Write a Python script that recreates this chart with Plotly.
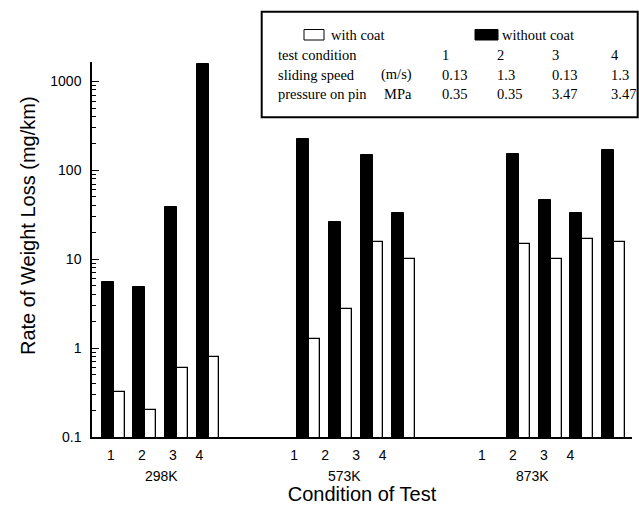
import plotly.graph_objects as go

# ---------------- data ----------------
groups = ["298K", "573K", "873K"]
conditions = ["1", "2", "3", "4"]
with_coat = [
    [0.32, 0.20, 0.60, 0.80],
    [1.28, 2.75, 15.5, 9.95],
    [14.7, 10.05, 16.9, 15.5],
]
without_coat = [
    [5.5, 4.9, 39, 1580],
    [222, 26.4, 148, 33],
    [153, 46.8, 33, 167],
]
legend_header = ["test condition", "sliding speed", "pressure on pin"]
legend_units = ["", "(m/s)", "MPa"]
sliding_speed = ["0.13", "1.3", "0.13", "1.3"]
pin_pressure = ["0.35", "0.35", "3.47", "3.47"]
y_tick_vals = [0.1, 1, 10, 100, 1000]
y_tick_text = ["0.1", "1", "10", "100", "1000"]

# ---------------- layout helpers (positions) ----------------
group_bar_start = [0.0, 6.19, 12.83]
pair_step = 1.0
group_label_start = [0.29, 6.09, 12.03]
label_offsets = [0.0, 0.98, 1.96, 2.8]
group_name_offset = 1.6

W, H = 639, 505
ML, MR, MT, MB = 92, 7, 62, 68
PW, PH = W - ML - MR, H - MT - MB


def px(x):
    return (x - ML) / PW


def py(y):
    return (H - MB - y) / PH


SANS = "Liberation Sans, Arial, sans-serif"
SERIF = "Liberation Serif, Times New Roman, serif"

fig = go.Figure()

bx, by_w, by_wo = [], [], []
for g in range(len(groups)):
    for i in range(len(conditions)):
        bx.append(group_bar_start[g] + i * pair_step)
        by_w.append(with_coat[g][i])
        by_wo.append(without_coat[g][i])

fig.add_trace(go.Bar(
    x=bx, y=by_wo, width=0.38, offset=0.0, name="without coat",
    marker=dict(color="black", line=dict(color="black", width=1)),
    showlegend=False,
))
fig.add_trace(go.Bar(
    x=bx, y=by_w, width=0.345, offset=0.38, name="with coat",
    marker=dict(color="white", line=dict(color="black", width=1.3)),
    showlegend=False,
))

tickvals, ticktext = [], []
for g in range(len(groups)):
    for i, c in enumerate(conditions):
        tickvals.append(group_label_start[g] + label_offsets[i])
        ticktext.append(c)

annotations = []
for g, name in enumerate(groups):
    annotations.append(dict(
        x=group_label_start[g] + group_name_offset, xref="x",
        y=py(476), yref="paper", text=name, showarrow=False,
        xanchor="center", yanchor="middle", borderpad=0,
        font=dict(family=SANS, size=14, color="black"),
    ))

# y-axis title
annotations.append(dict(
    x=px(28), y=py(226), xref="paper", yref="paper",
    text="Rate of Weight Loss (mg/km)", textangle=-90, showarrow=False,
    xanchor="center", yanchor="middle",
    font=dict(family=SANS, size=20, color="black"),
))

# legend / table box
shapes = [
    dict(type="rect", xref="paper", yref="paper",
         x0=px(261.7), x1=px(637.7), y0=py(117.3), y1=py(11.7),
         line=dict(color="black", width=2), fillcolor="white", layer="above"),
    dict(type="rect", xref="paper", yref="paper",
         x0=px(304), x1=px(324), y0=py(40), y1=py(29.5),
         line=dict(color="black", width=1), fillcolor="white", layer="above"),
    dict(type="rect", xref="paper", yref="paper",
         x0=px(475), x1=px(498), y0=py(40), y1=py(29.5),
         line=dict(color="black", width=1), fillcolor="black", layer="above"),
]


def ltext(x, y, t, anchor="left"):
    annotations.append(dict(
        x=px(x), y=py(y), xref="paper", yref="paper", text=t,
        showarrow=False, xanchor=anchor, yanchor="middle", borderpad=0,
        font=dict(family=SERIF, size=14.5, color="black"),
    ))


ltext(330, 35, "with coat")
ltext(501, 35, "without coat")
row_y = [55, 75, 94.3]
col_x = [441, 496, 551, 610]
for r, (h, u) in enumerate(zip(legend_header, legend_units)):
    ltext(277, row_y[r], h)
    if u:
        ltext(413, row_y[r], u, anchor="right")
rows_vals = [conditions, sliding_speed, pin_pressure]
for r, vals in enumerate(rows_vals):
    for c, v in enumerate(vals):
        ltext(col_x[c], row_y[r], v)

fig.update_layout(
    width=W, height=H,
    margin=dict(l=ML, r=MR, t=MT, b=MB),
    paper_bgcolor="white", plot_bgcolor="white",
    barmode="overlay", bargap=0,
    font=dict(family=SANS, color="black"),
    annotations=annotations, shapes=shapes,
    xaxis=dict(
        range=[-0.307, 16.78], showgrid=False, zeroline=False,
        showline=True, linecolor="black", linewidth=1.5,
        ticks="", tickvals=tickvals, ticktext=ticktext,
        tickfont=dict(family=SANS, size=14, color="black"),
        ticklabelstandoff=4, automargin=False,
        title=dict(text="Condition of Test", standoff=31,
                   font=dict(family=SANS, size=20, color="black")),
    ),
    yaxis=dict(
        type="log", range=[-1, 3.217], showgrid=False, zeroline=False,
        showline=True, linecolor="black", linewidth=1.5,
        ticks="inside", ticklen=7, tickwidth=1, tickcolor="black",
        tickvals=y_tick_vals, ticktext=y_tick_text,
        tickfont=dict(family=SANS, size=14, color="black"),
        ticklabelstandoff=6, automargin=False,
        minor=dict(ticks="inside", ticklen=4, tickcolor="black", dtick="D1"),
    ),
)

fig.write_html("out.html")
